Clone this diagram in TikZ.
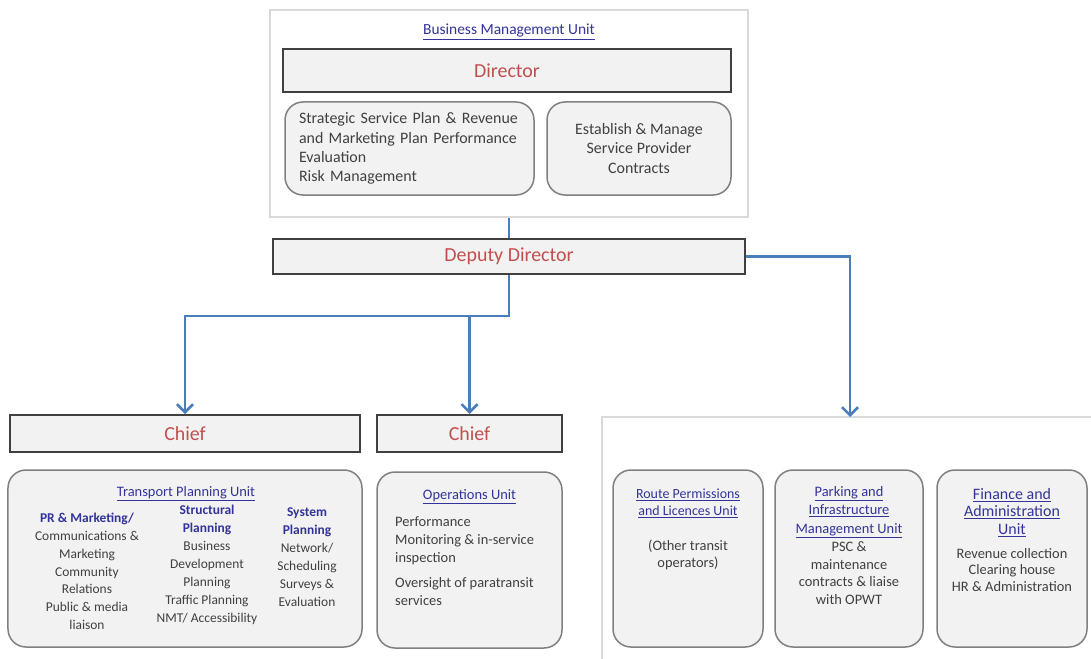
\documentclass[tikz,border=0pt]{standalone}
\usepackage{fontspec}
\setmainfont{Carlito}
\usetikzlibrary{arrows.meta}
\definecolor{arrblue}{RGB}{74,126,187}
\definecolor{redtxt}{RGB}{192,80,77}
\definecolor{ttlblue}{RGB}{51,51,153}
\definecolor{bodytxt}{RGB}{64,64,64}
\definecolor{boxfill}{RGB}{242,242,242}
\definecolor{boxline}{RGB}{64,64,64}
\definecolor{rndline}{RGB}{128,128,128}
\definecolor{outline}{RGB}{217,217,217}
\begin{document}
\begin{tikzpicture}[x=1bp,y=-1bp,
  titlebox/.style={draw=boxline, line width=2bp, fill=boxfill, inner sep=0pt},
  rndbox/.style={draw=rndline, line width=1.5bp, fill=boxfill, rounded corners=18bp, inner sep=0pt},
  outerbox/.style={draw=outline, line width=2.5bp, fill=white, inner sep=0pt},
  redlabel/.style={text=redtxt, font=\fontsize{20}{24}\selectfont},
  bodytext/.style={text=bodytxt, inner sep=0pt},
  unitttl/.style={text=ttlblue, inner sep=0pt, align=center, font=\fontsize{14.5}{17.5}\selectfont},
  coltext/.style={bodytext, align=center, font=\fontsize{13.5}{18}\selectfont},
  conn/.style={draw=arrblue, line width=2.5bp},
  arr/.style={conn, -{Straight Barb[length=8bp,width=16bp,line width=2.5bp]}},
  panelline/.style={draw=outline, line width=2bp},
]
\useasboundingbox (0,0) rectangle (1091,659);
\newcommand{\colhd}[1]{\textcolor{ttlblue}{\bfseries #1}}

% ---- top block
\node[outerbox, minimum width=478bp, minimum height=207bp] (bmu) at (509,113.5) {};
\node[unitttl, font=\fontsize{15.5}{18}\selectfont] (bmut) at (509,32) {\underline{Business Management Unit}};
\node[titlebox, redlabel, minimum width=448bp, minimum height=43bp] (dir) at (507,70.5) {Director};
\node[rndbox, bodytext, minimum width=249bp, minimum height=93bp, text width=221bp, align=left,
      font=\fontsize{16}{19.3}\selectfont] (ssp) at (409.5,148.5)
  {Strategic Service Plan \& Revenue\\ and Marketing Plan Performance\\ Evaluation\\ Risk Management};
\node[rndbox, bodytext, minimum width=184bp, minimum height=93bp, align=center,
      font=\fontsize{16}{19.5}\selectfont] (spc) at (639,148.5)
  {Establish \& Manage\\ Service Provider\\ Contracts};

% ---- deputy
\node[titlebox, redlabel, minimum width=472bp, minimum height=35bp] (dep) at (509,256.5) {Deputy Director};

% ---- chiefs
\node[titlebox, redlabel, minimum width=350bp, minimum height=37bp] (ch1) at (185,433.5) {Chief};
\node[titlebox, redlabel, minimum width=185bp, minimum height=37bp] (ch2) at (469.5,433.5) {Chief};

% ---- transport planning unit
\node[rndbox, minimum width=354bp, minimum height=177bp] (tpu) at (185,558.5) {};
\node[unitttl] (tput) at (186,494) {\underline{Transport Planning Unit}};
\node[coltext, font=\fontsize{13.5}{17.8}\selectfont] (c1) at (87,571.5)
  {\colhd{PR \& Marketing/}\\ Communications \&\\ Marketing\\ Community\\ Relations\\ Public \& media\\ liaison};
\node[coltext] (c2) at (207,565)
  {\colhd{Structural}\\ \colhd{Planning}\\ Business\\ Development\\ Planning\\ Traffic Planning\\ NMT/ Accessibility};
\node[coltext] (c3) at (307,557)
  {\colhd{System}\\ \colhd{Planning}\\ Network/\\ Scheduling\\ Surveys \&\\ Evaluation};

% ---- operations unit
\node[rndbox, minimum width=185bp, minimum height=176bp] (ops) at (469.5,560) {};
\node[unitttl] (opst) at (469.5,497) {\underline{Operations Unit}};
\node[bodytext, align=left, anchor=west, font=\fontsize{14.5}{18}\selectfont] (opsb) at (395,561)
  {Performance\\ Monitoring \& in-service\\ inspection\\[7bp] Oversight of paratransit\\ services};

% ---- right panel
\coordinate (pTR) at (1091,417);
\coordinate (pTL) at (602,417);
\coordinate (pBL) at (602,659);
\draw[panelline] (pTR) -- (pTL) -- (pBL);

\node[rndbox, minimum width=150bp, minimum height=177bp] (rpl) at (688,558.5) {};
\node[unitttl, font=\fontsize{14}{17}\selectfont] (rplt) at (688,503.5) {\underline{Route Permissions}\\ \underline{and Licences Unit}};
\node[bodytext, align=center, font=\fontsize{14.5}{16.5}\selectfont] (rplb) at (688,555) {(Other transit\\ operators)};

\node[rndbox, minimum width=148bp, minimum height=177bp] (pim) at (849,558.5) {};
\node[unitttl, font=\fontsize{14.5}{18.5}\selectfont] (pimt) at (849,512) {\underline{Parking and}\\ \underline{Infrastructure}\\ \underline{Management Unit}};
\node[bodytext, align=center, font=\fontsize{14.5}{17.7}\selectfont] (pimb) at (849,573) {PSC \&\\ maintenance\\ contracts \& liaise\\ with OPWT};

\node[rndbox, minimum width=150bp, minimum height=177bp] (fau) at (1012,558.5) {};
\node[unitttl, font=\fontsize{16}{17.5}\selectfont] (faut) at (1012,512.5) {\underline{Finance and}\\ \underline{Administration}\\ \underline{Unit}};
\node[bodytext, align=center, font=\fontsize{14.5}{17}\selectfont] (faub) at (1012,570) {Revenue collection\\ Clearing house\\ HR \& Administration};

% ---- connectors
\coordinate (jn) at (509,316);
\coordinate (pin) at (850,417);
\draw[conn] (bmu.south) -- (dep.north);
\draw[arr] (dep.south) -- (jn) -| (ch1.north);
\draw[arr] (jn -| ch2.north) -- (ch2.north);
\draw[arr] (dep.east) -| (pin);
\end{tikzpicture}
\end{document}
